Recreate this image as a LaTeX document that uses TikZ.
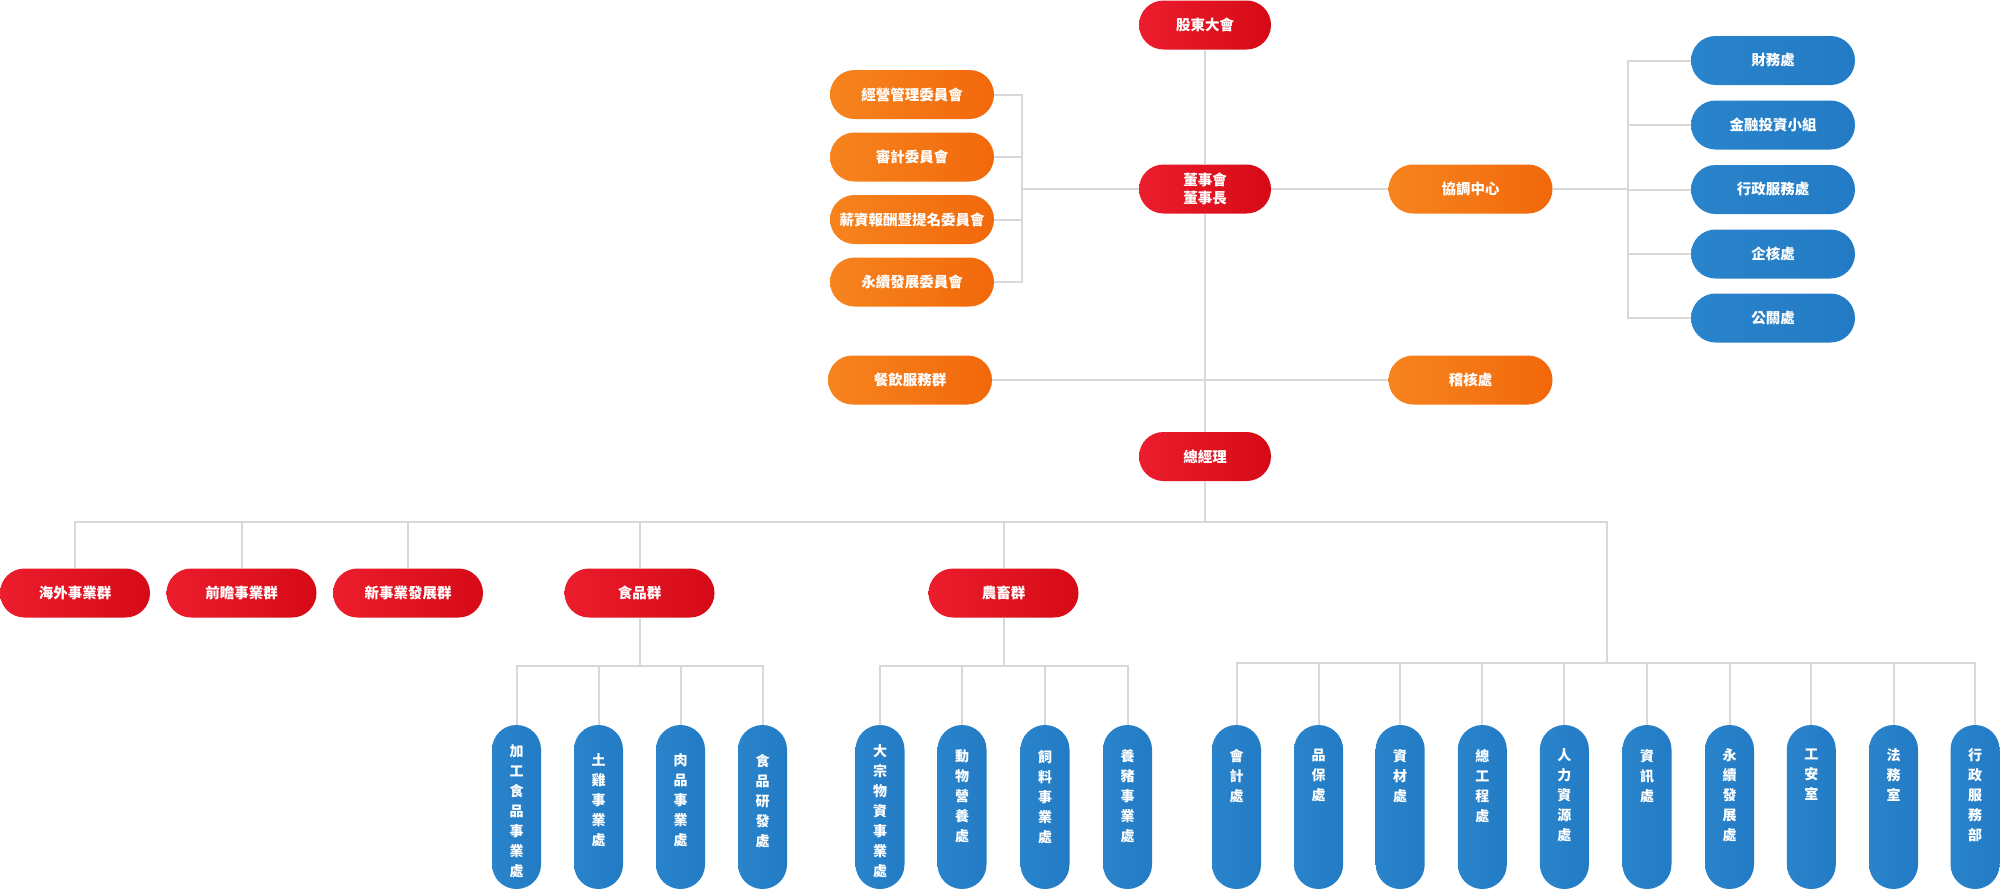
\documentclass[tikz,border=0pt]{standalone}
\usepackage{fontspec}
\setmainfont{Noto Sans CJK TC}
\definecolor{redL}{HTML}{EC1D2D}
\definecolor{redR}{HTML}{D60A16}
\definecolor{orL}{HTML}{F6841F}
\definecolor{orR}{HTML}{F2680A}
\definecolor{blL}{HTML}{2A84CB}
\definecolor{blR}{HTML}{227BC4}
\definecolor{lineC}{HTML}{D8D8D8}
\tikzset{
  pill/.style={rounded corners=24.5pt, minimum height=49pt, inner sep=0pt, text=white,
    font=\fontsize{14.5}{18}\selectfont\bfseries, align=center},
  topnode/.style={pill, minimum width=132pt, left color=redL, right color=redR},
  grpnode/.style={pill, minimum width=150pt, left color=redL, right color=redR},
  ornode/.style={pill, minimum width=164pt, left color=orL, right color=orR},
  blnode/.style={pill, minimum width=164pt, left color=blL, right color=blR},
  vpill/.style={rounded corners=24.5pt, minimum width=49pt, minimum height=164pt, inner sep=0pt,
    left color=blL, right color=blR},
  vlabel/.style={anchor=north, inner sep=0pt, text=white, align=center,
    font=\fontsize{14}{20}\selectfont\bfseries},
  conn/.style={draw=lineC, line width=2pt},
}
\begin{document}
\begin{tikzpicture}[x=1pt,y=-1pt]
\fill[white] (0,0) rectangle (2000,892);
\useasboundingbox (0,0) rectangle (2000,892);

% top column
\node[topnode] (gd) at (1205,25) {股東大會};
\node[topnode] (board) at (1205,189) {董事會\\董事長};
\node[topnode] (gm) at (1205,456.5) {總經理};

% committees
\node[ornode] (cm1) at (912,94.5) {經營管理委員會};
\node[ornode] (cm2) at (912,157) {審計委員會};
\node[ornode] (cm3) at (912,219.5) {薪資報酬暨提名委員會};
\node[ornode] (cm4) at (912,282) {永續發展委員會};
\node[ornode] (cy) at (910,380) {餐飲服務群};
\node[ornode] (xt) at (1470.5,189) {協調中心};
\node[ornode] (jh) at (1470.5,380) {稽核處};

% right blue
\node[blnode] (b1) at (1773,60.5) {財務處};
\node[blnode] (b2) at (1773,125) {金融投資小組};
\node[blnode] (b3) at (1773,189.5) {行政服務處};
\node[blnode] (b4) at (1773,254) {企核處};
\node[blnode] (b5) at (1773,318) {公關處};

% groups
\node[grpnode] (g1) at (75,593) {海外事業群};
\node[grpnode] (g2) at (241.5,593) {前瞻事業群};
\node[grpnode] (g3) at (408,593) {新事業發展群};
\node[grpnode] (food) at (639.5,593) {食品群};
\node[grpnode] (agri) at (1003.5,593) {農畜群};

% vertical pills
\foreach \n/\x/\o/\t in {
  f1/516.5/20/{加\\工\\食\\品\\事\\業\\處},
  f2/598.5/29/{土\\雞\\事\\業\\處},
  f3/680.5/29/{肉\\品\\事\\業\\處},
  f4/762.5/29/{食\\品\\研\\發\\處},
  a1/880/20/{大\\宗\\物\\資\\事\\業\\處},
  a2/962/25/{動\\物\\營\\養\\處},
  a3/1045/25/{飼\\料\\事\\業\\處},
  a4/1127.5/25/{養\\豬\\事\\業\\處},
  s1/1236.5/24/{會\\計\\處},
  s2/1318.6/24/{品\\保\\處},
  s3/1400.2/24/{資\\材\\處},
  s4/1482.3/24/{總\\工\\程\\處},
  s5/1564.4/24/{人\\力\\資\\源\\處},
  s6/1647/24/{資\\訊\\處},
  s7/1729.5/24/{永\\續\\發\\展\\處},
  s8/1811.3/24/{工\\安\\室},
  s9/1893.5/24/{法\\務\\室},
  s10/1975/24/{行\\政\\服\\務\\部}}{
  \node[vpill] (\n) at (\x,807) {};
  \node[vlabel] at ([yshift=-\o pt]\n.north) {\t};
}

% connectors
\draw[conn] (gd.south) -- (board.north);
\draw[conn] (board.south) -- (gm.north);
\draw[conn] (cy.east) -- (jh.west);

\coordinate (lb) at (1022,189);
\draw[conn] (board.west) -- (lb);
\draw[conn] (cm1.east) -- (cm1.east -| lb) -- (cm4.east -| lb) -- (cm4.east);
\draw[conn] (cm2.east) -- (cm2.east -| lb);
\draw[conn] (cm3.east) -- (cm3.east -| lb);

\coordinate (rb) at (1628,189);
\draw[conn] (board.east) -- (xt.west);
\draw[conn] (xt.east) -- (rb);
\draw[conn] (b1.west) -- (b1.west -| rb) -- (b5.west -| rb) -- (b5.west);
\draw[conn] (b2.west) -- (b2.west -| rb);
\draw[conn] (b3.west) -- (b3.west -| rb);
\draw[conn] (b4.west) -- (b4.west -| rb);

\coordinate (bus) at (1205,522);
\coordinate (sb) at (1607,522);
\coordinate (sbb) at (1607,663);
\draw[conn] (gm.south) -- (bus);
\draw[conn] (g1.north) -- (g1.north |- bus) -- (sb) -- (sbb);
\draw[conn] (g2.north) -- (g2.north |- bus);
\draw[conn] (g3.north) -- (g3.north |- bus);
\draw[conn] (food.north) -- (food.north |- bus);
\draw[conn] (agri.north) -- (agri.north |- bus);

\coordinate (fb) at (639.5,666);
\draw[conn] (food.south) -- (fb);
\draw[conn] (f1.north) -- (f1.north |- fb) -- (f4.north |- fb) -- (f4.north);
\draw[conn] (f2.north) -- (f2.north |- fb);
\draw[conn] (f3.north) -- (f3.north |- fb);

\coordinate (ab) at (1003.5,666);
\draw[conn] (agri.south) -- (ab);
\draw[conn] (a1.north) -- (a1.north |- ab) -- (a4.north |- ab) -- (a4.north);
\draw[conn] (a2.north) -- (a2.north |- ab);
\draw[conn] (a3.north) -- (a3.north |- ab);

\draw[conn] (s1.north) -- (s1.north |- sbb) -- (s10.north |- sbb) -- (s10.north);
\foreach \k in {2,...,9}{
  \draw[conn] (s\k.north) -- (s\k.north |- sbb);
}
\end{tikzpicture}
\end{document}
